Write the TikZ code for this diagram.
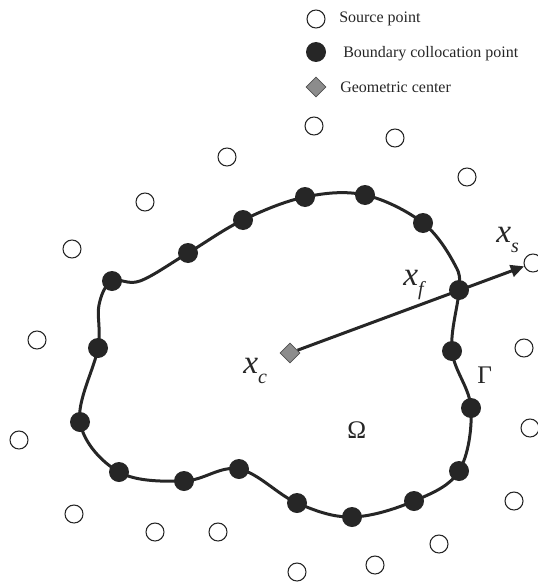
\documentclass[tikz,border=0pt]{standalone}
\usepackage{fontspec}
\setmainfont{Liberation Serif}
\usetikzlibrary{shapes.geometric,arrows.meta}
\definecolor{ink}{HTML}{262626}
\definecolor{centergray}{HTML}{8C8C8C}
\newcommand{\symlbl}[2]{{\itshape #1}\raisebox{-7.5pt}{\fontsize{15}{15}\selectfont\itshape #2}}
\begin{document}
\begin{tikzpicture}[x=0.75pt,y=-0.75pt,
  srcpt/.style={circle,draw=ink,line width=0.8pt,fill=white,inner sep=0pt,minimum size=13.5pt},
  colpt/.style={circle,fill=ink,inner sep=0pt,minimum size=15pt},
  centerpt/.style={diamond,draw=ink!80,line width=0.6pt,fill=centergray,inner sep=0pt,minimum width=15pt,minimum height=15pt},
  legendtext/.style={anchor=base west,inner sep=0pt,font=\fontsize{12}{14}\selectfont,text=ink},
  symtext/.style={anchor=base west,inner sep=0pt,font=\fontsize{25}{28}\selectfont,text=ink},
  greektext/.style={anchor=base west,inner sep=0pt,font=\fontsize{19}{22}\selectfont,text=ink},
  boundary/.style={draw=ink,line width=2.25pt},
  radial/.style={draw=ink,line width=2.25pt,-{Triangle[length=10pt,width=9pt]}}]
\useasboundingbox (0,0) rectangle (538,585);

% boundary curve through the collocation points (plus a few shaping points)
\draw[boundary] plot[smooth cycle,tension=0.6] coordinates {
  (305,197) (365,195) (423,223) (455,265) (459,290) (452,351) (471,408)
  (459,471) (414,501) (352,517) (297,503) (239,469) (184,481) (119,472)
  (80,422) (98,348) (99,305) (112,281) (140,281) (188,253) (243,220)};

% source points
\node[srcpt] (s1) at (145,202) {};
\node[srcpt] (s2) at (227,157) {};
\node[srcpt] (s3) at (314,126) {};
\node[srcpt] (s4) at (395,138) {};
\node[srcpt] (s5) at (467,177) {};
\node[srcpt] (s6) at (533,263) {};
\node[srcpt] (s7) at (524,348) {};
\node[srcpt] (s8) at (530,428) {};
\node[srcpt] (s9) at (514,501) {};
\node[srcpt] (s10) at (439,544) {};
\node[srcpt] (s11) at (375,565) {};
\node[srcpt] (s12) at (297,572) {};
\node[srcpt] (s13) at (218,532) {};
\node[srcpt] (s14) at (155,532) {};
\node[srcpt] (s15) at (74,514) {};
\node[srcpt] (s16) at (19,440) {};
\node[srcpt] (s17) at (37,340) {};
\node[srcpt] (s18) at (72,249) {};

% geometric center and the ray to a source point
\node[centerpt] (c) at (290,353) {};
\draw[radial] (c) -- (s6);

% boundary collocation points
\node[colpt] (b1) at (305,197) {};
\node[colpt] (b2) at (365,195) {};
\node[colpt] (b3) at (423,223) {};
\node[colpt] (b4) at (459,290) {};
\node[colpt] (b5) at (452,351) {};
\node[colpt] (b6) at (471,408) {};
\node[colpt] (b7) at (459,471) {};
\node[colpt] (b8) at (414,501) {};
\node[colpt] (b9) at (352,517) {};
\node[colpt] (b10) at (297,503) {};
\node[colpt] (b11) at (239,469) {};
\node[colpt] (b12) at (184,481) {};
\node[colpt] (b13) at (119,472) {};
\node[colpt] (b14) at (80,422) {};
\node[colpt] (b15) at (98,348) {};
\node[colpt] (b16) at (112,281) {};
\node[colpt] (b17) at (188,253) {};
\node[colpt] (b18) at (243,220) {};

% labels
\node[symtext] (lxs) at (496,242) {\symlbl{x}{s}};
\node[symtext] (lxf) at (403,285) {\symlbl{x}{f}};
\node[symtext] (lxc) at (243,373) {\symlbl{x}{c}};
\node[greektext] (lomega) at (347,438) {Ω};
\node[greektext] (lgamma) at (477,383) {Γ};

% legend
\node[srcpt] (ksrc) at (316,19) {};
\node[legendtext] (tsrc) at (339,23) {Source point};
\node[colpt] (kcol) at (316,52) {};
\node[legendtext] (tcol) at (343,58) {Boundary collocation point};
\node[centerpt] (kcen) at (316,87) {};
\node[legendtext] (tcen) at (340,93) {Geometric center};
\end{tikzpicture}
\end{document}
